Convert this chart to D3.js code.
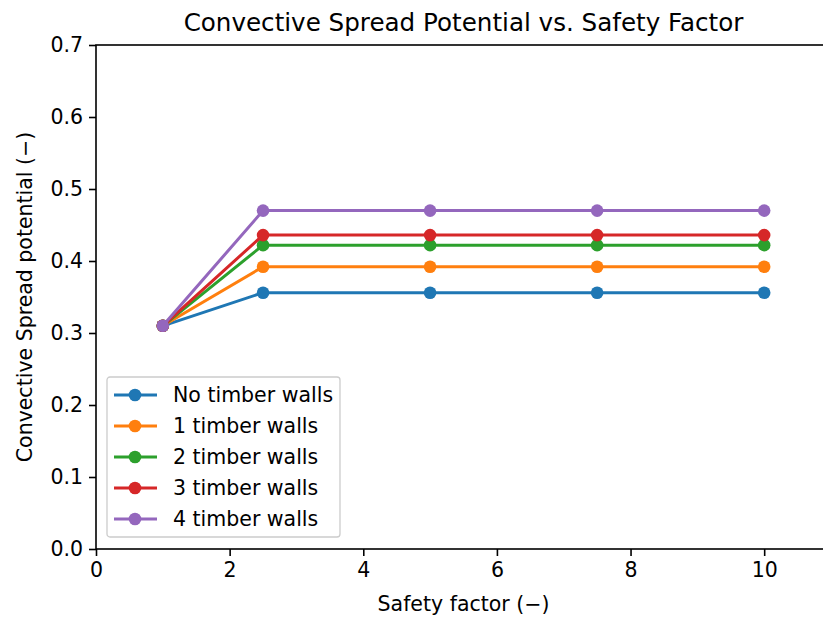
<!DOCTYPE html>
<html lang="en">
<head>
<meta charset="UTF-8">
<title>Convective Spread Potential vs. Safety Factor</title>
<script src="https://d3js.org/d3.v7.min.js"></script>
<style>
    body { margin: 0; background: white; font-family: "DejaVu Sans", sans-serif; }
    svg text { fill: #000; }
</style>
</head>
<body>
<div id="chart"></div>
<script>
    // data
    const safetyFactors = [1, 2.5, 5, 7.5, 10];
    const seriesNames = ["No timber walls", "1 timber walls", "2 timber walls", "3 timber walls", "4 timber walls"];
    const noWalls    = [0.310, 0.356, 0.356, 0.356, 0.356];
    const oneWall    = [0.310, 0.392, 0.392, 0.392, 0.392];
    const twoWalls   = [0.310, 0.422, 0.422, 0.422, 0.422];
    const threeWalls = [0.310, 0.436, 0.436, 0.436, 0.436];
    const fourWalls  = [0.310, 0.470, 0.470, 0.470, 0.470];
    const colors = ["#1f77b4", "#ff7f0e", "#2ca02c", "#d62728", "#9467bd"];
    const xTicks = [0, 2, 4, 6, 8, 10];
    const yTicks = [0, 0.1, 0.2, 0.3, 0.4, 0.5, 0.6, 0.7];

    const allSeries = [noWalls, oneWall, twoWalls, threeWalls, fourWalls];

    const W = 823, H = 617;
    const margin = { top: 45, right: -8, bottom: 68, left: 96 };
    const width = W - margin.left - margin.right;
    const height = H - margin.top - margin.bottom;
    const fs = "20.5px";

    const svg = d3.select("#chart").append("svg")
        .attr("width", W).attr("height", H);
    const g = svg.append("g").attr("transform", `translate(${margin.left},${margin.top})`);

    const x = d3.scaleLinear().domain([0, 11]).range([0, width]);
    const y = d3.scaleLinear().domain([0, 0.7]).range([height, 0]);

    // axes
    const xAxis = g.append("g").attr("transform", `translate(0,${height})`)
        .call(d3.axisBottom(x).tickValues(xTicks).tickFormat(d3.format("d")).tickSizeOuter(0).tickSize(7).tickPadding(6));
    const yAxis = g.append("g")
        .call(d3.axisLeft(y).tickValues(yTicks).tickFormat(d3.format(".1f")).tickSizeOuter(0).tickSize(7).tickPadding(6));
    [xAxis, yAxis].forEach(a => {
        a.selectAll("text").style("font-size", fs).style("font-family", "DejaVu Sans");
        a.selectAll("line").attr("stroke", "#000").attr("stroke-width", 1.6);
        a.select(".domain").remove();
    });

    // spines
    g.append("rect").attr("x", 0).attr("y", 0).attr("width", width).attr("height", height)
        .attr("fill", "none").attr("stroke", "#000").attr("stroke-width", 1.6);

    // lines and markers
    const line = d3.line().x((d, i) => x(safetyFactors[i])).y(d => y(d));
    allSeries.forEach((s, k) => {
        g.append("path").datum(s).attr("d", line)
            .attr("fill", "none").attr("stroke", colors[k]).attr("stroke-width", 3);
        g.selectAll(null).data(s).enter().append("circle")
            .attr("cx", (d, i) => x(safetyFactors[i])).attr("cy", d => y(d))
            .attr("r", 6.3).attr("fill", colors[k]);
    });

    // title and labels
    svg.append("text").attr("x", margin.left + x(5.5)).attr("y", 31)
        .attr("text-anchor", "middle").style("font-size", "24.6px").text("Convective Spread Potential vs. Safety Factor");
    svg.append("text").attr("x", margin.left + x(5.5)).attr("y", 611)
        .attr("text-anchor", "middle").style("font-size", fs).text("Safety factor (\u2212)");
    svg.append("text").attr("transform", `translate(32,${margin.top + height / 2}) rotate(-90)`)
        .attr("text-anchor", "middle").style("font-size", fs).text("Convective Spread potential (\u2212)");

    // legend
    const lg = g.append("g").attr("transform", "translate(11,332)");
    lg.append("rect").attr("width", 233).attr("height", 160).attr("rx", 3)
        .attr("fill", "white").attr("fill-opacity", 0.8).attr("stroke", "#ccc").attr("stroke-width", 1.3);
    seriesNames.forEach((name, k) => {
        const yy = 18 + k * 31;
        lg.append("line").attr("x1", 7).attr("x2", 50).attr("y1", yy).attr("y2", yy)
            .attr("stroke", colors[k]).attr("stroke-width", 3);
        lg.append("circle").attr("cx", 28).attr("cy", yy).attr("r", 6.3).attr("fill", colors[k]);
        lg.append("text").attr("x", 66).attr("y", yy).attr("dy", "0.35em")
            .style("font-size", fs).text(name);
    });
</script>
</body>
</html>
